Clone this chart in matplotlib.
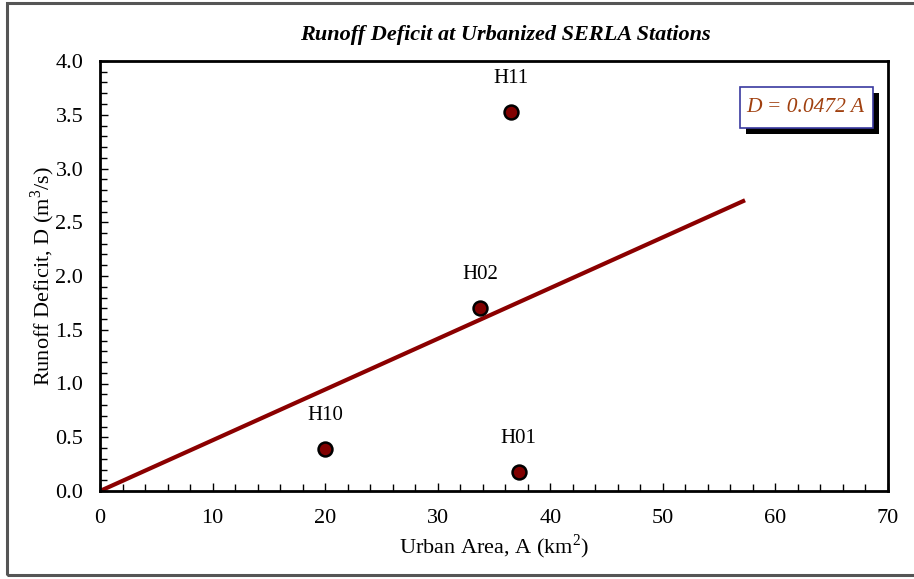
import matplotlib.pyplot as plt
from matplotlib.patches import Rectangle
from matplotlib.ticker import MultipleLocator

# station data
stations = ["H11", "H02", "H10", "H01"]
urban_area = [36.5, 33.8, 20.0, 37.2]
deficit = [3.53, 1.70, 0.39, 0.18]

# fitted line D = 0.0472 A
slope = 0.0472
fit_x = [0.0, 57.3]
fit_y = [slope * x for x in fit_x]

plt.rcParams['font.family'] = ['Liberation Serif', 'DejaVu Serif']
plt.rcParams['mathtext.fontset'] = 'custom'
plt.rcParams['mathtext.rm'] = 'Liberation Serif'

fig = plt.figure(figsize=(9.14, 5.79), dpi=100)
ax = fig.add_axes([100 / 914, 88 / 579, 788 / 914, 430 / 579])

# outer gray frame of the chart
fig.patches.append(Rectangle((7 / 914, 4 / 579), 1.0, 572 / 579, transform=fig.transFigure,
                             fill=False, edgecolor='#555555', linewidth=2.2, zorder=0))

ax.plot(fit_x, fit_y, color='#8b0000', linewidth=3, solid_capstyle='butt', zorder=2)
ax.plot(urban_area, deficit, 'o', markersize=10, markerfacecolor='#800000',
        markeredgecolor='black', markeredgewidth=1.8, zorder=3, clip_on=False)

for name, x, y in zip(stations, urban_area, deficit):
    ax.annotate(name, (x, y), xytext=(0, 24), textcoords='offset points',
                ha='center', va='center', fontsize=15)

ax.set_xlim(0, 70)
ax.set_ylim(0, 4.0)
ax.xaxis.set_major_locator(MultipleLocator(10))
ax.xaxis.set_minor_locator(MultipleLocator(2))
ax.yaxis.set_major_locator(MultipleLocator(0.5))
ax.yaxis.set_minor_locator(MultipleLocator(0.1))
ax.yaxis.set_major_formatter(plt.FormatStrFormatter('%.1f'))
ax.tick_params(which='both', direction='in', top=False, right=False, labelsize=16, width=1)
ax.tick_params(which='major', length=6)
ax.tick_params(which='minor', length=5)
ax.tick_params(axis='x', pad=13)
ax.tick_params(axis='y', pad=12)
for s in ax.spines.values():
    s.set_linewidth(2)

ax.set_xlabel('Urban Area, A (km$^\\mathregular{2}$)', fontsize=16, labelpad=3)
ax.set_ylabel('Runoff Deficit, D (m$^\\mathregular{3}$/s)', fontsize=16, labelpad=-1)
fig.text(505 / 914, 1 - 35 / 579, 'Runoff Deficit at Urbanized SERLA Stations',
         ha='center', va='center', fontsize=16, fontweight='bold', fontstyle='italic')

# equation box with drop shadow
fig.patches.append(Rectangle((746 / 914, 1 - 134 / 579), 133 / 914, 41 / 579,
                             transform=fig.transFigure, facecolor='black', edgecolor='none'))
fig.patches.append(Rectangle((740 / 914, 1 - 128 / 579), 133 / 914, 41 / 579,
                             transform=fig.transFigure, facecolor='white',
                             edgecolor='#3a3aa0', linewidth=1.2))
fig.text(805 / 914, 1 - 107 / 579, 'D = 0.0472 A', ha='center', va='center',
         fontsize=15.5, fontstyle='italic', color='#a0400f')

fig.savefig('out.png', dpi=100)
